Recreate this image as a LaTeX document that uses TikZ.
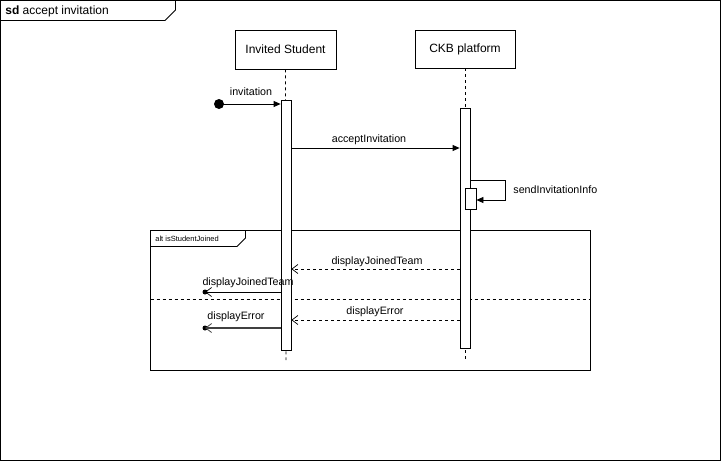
\documentclass[tikz,border=0pt]{standalone}
\usepackage{fontspec}
\setmainfont{Liberation Sans}
\usetikzlibrary{arrows.meta}
\begin{document}
\begin{tikzpicture}[x=1pt,y=-1pt,line width=0.8pt,
  actor/.style={draw,fill=white,minimum width=101pt,minimum height=39pt,inner sep=0pt,font=\fontsize{12}{14}\selectfont},
  act/.style={draw,fill=white,minimum width=10pt,inner sep=0pt},
  lifeline/.style={dashed,dash pattern=on 3pt off 3pt,line width=0.7pt},
  msg/.style={-{Triangle[length=7pt,width=6pt]}},
  ret/.style={dashed,dash pattern=on 3pt off 3pt,-{Straight Barb[length=6pt,width=9pt,line width=0.7pt]}},
  lbl/.style={font=\fontsize{10.7}{13}\selectfont,inner sep=1pt},
  dotball/.style={circle,fill=black,inner sep=0pt,minimum size=#1}
]
\useasboundingbox (0,0) rectangle (721,461);
% outer frame
\draw (0.5,0.5) rectangle (720.5,460.5);
\draw (0.5,20.5) -- (165,20.5) -- (175.5,10) -- (175.5,0.5);
\node[anchor=west,font=\fontsize{12}{14}\selectfont,inner sep=0pt] (title) at (5,11) {\textbf{sd} accept invitation};

% actors
\node[actor] (stu) at (285.5,49.5) {Invited Student};
\node[actor,minimum width=100pt,minimum height=38pt] (ckb) at (465,49) {CKB platform};
\coordinate (stuEnd) at (286,360);
\coordinate (ckbEnd) at (465,360);
\draw[lifeline] (stu.south) -- (stuEnd);
\draw[lifeline] (ckb.south) -- (ckbEnd);

% alt frame
\draw (150.5,230.5) rectangle (590.5,370.5);
\draw (150.5,246.5) -- (237,246.5) -- (245.5,238) -- (245.5,230.5);
\node[anchor=west,font=\fontsize{7.5}{9}\selectfont,inner sep=0pt] (altlbl) at (155,238.5) {alt isStudentJoined};
\coordinate (sepL) at (150.5,299.5);
\coordinate (sepR) at (590.5,299.5);
\draw[dashed,dash pattern=on 3pt off 3pt] (sepL) -- (sepR);

% activations
\node[act,minimum height=250pt] (a1) at (286,225) {};
\node[act,minimum height=240pt] (a2) at (465,228) {};
\node[act,minimum width=11pt,minimum height=21pt] (a3) at (470.5,198.5) {};

% invitation
\node[dotball=10pt] (start) at (219,104) {};
\draw[msg] (start.center) -- (a1.west |- 0,104);
\node[lbl] at (251,92) {invitation};

% acceptInvitation
\draw[msg] (a1.east |- 0,148) -- (a2.west |- 0,148);
\node[lbl] at (369,140) {acceptInvitation};

% self message
\draw[msg] (a2.east |- 0,180) -- (505,180) -- (505,200) -- (a3.east |- 0,200);
\node[lbl,anchor=west] at (512,190) {sendInvitationInfo};

% displayJoinedTeam return
\draw[ret] (a2.west |- 0,269) -- (a1.east |- 0,269);
\node[lbl] at (377,262) {displayJoinedTeam};

% lost message displayJoinedTeam
\node[dotball=5pt] (lost1) at (205,292) {};
\draw[-{Straight Barb[length=6pt,width=9pt,line width=0.7pt]}] (a1.west |- 0,292) -- (lost1.center);
\node[lbl] at (248,283) {displayJoinedTeam};

% displayError return
\draw[ret] (a2.west |- 0,320) -- (a1.east |- 0,320);
\node[lbl] at (375,312) {displayError};

% lost message displayError
\node[dotball=5pt] (lost2) at (205,328) {};
\draw[black!75,line width=1.2pt,-{Straight Barb[length=6pt,width=9pt,line width=0.8pt]}] (a1.west |- 0,328) -- (lost2.center);
\node[lbl] at (236,317) {displayError};
\end{tikzpicture}
\end{document}
